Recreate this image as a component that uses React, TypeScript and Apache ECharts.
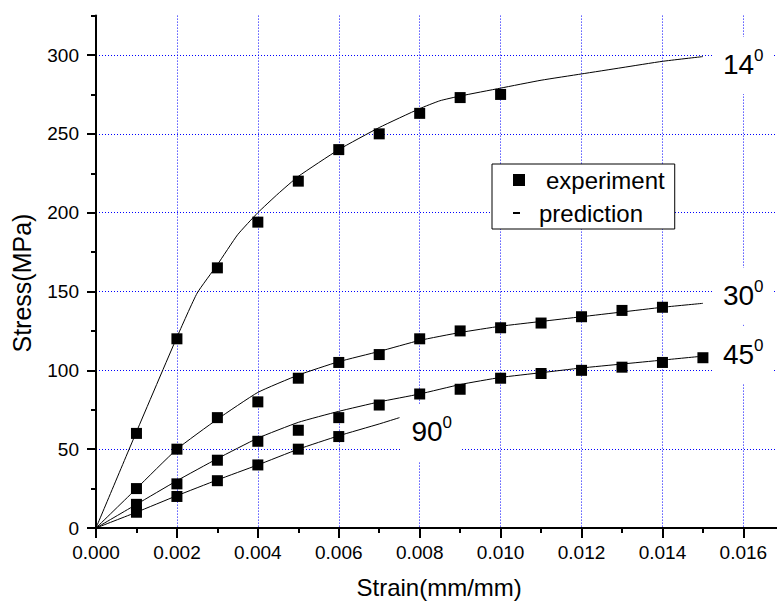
import React, { useEffect, useRef } from 'react';
import * as echarts from 'echarts';

// ---- data ----
const angles = ['14', '30', '45', '90'];

const expStrain14 = [0.001, 0.002, 0.003, 0.004, 0.005, 0.006, 0.007, 0.008, 0.009, 0.01];
const expStress14 = [60, 120, 165, 194, 220, 240, 250, 263, 273, 275];
const expStrain30 = [0.001, 0.002, 0.003, 0.004, 0.005, 0.006, 0.007, 0.008, 0.009, 0.01, 0.011, 0.012, 0.013, 0.014];
const expStress30 = [25, 50, 70, 80, 95, 105, 110, 120, 125, 127, 130, 134, 138, 140];
const expStrain45 = [0.001, 0.002, 0.003, 0.004, 0.005, 0.006, 0.007, 0.008, 0.009, 0.01, 0.011, 0.012, 0.013, 0.014, 0.015];
const expStress45 = [15, 28, 43, 55, 62, 70, 78, 85, 88, 95, 98, 100, 102, 105, 108];
const expStrain90 = [0.001, 0.002, 0.003, 0.004, 0.005, 0.006];
const expStress90 = [10, 20, 30, 40, 50, 58];

const predStrain14 = [0, 0.001, 0.002, 0.0025, 0.003, 0.0035, 0.004, 0.0045, 0.005, 0.006, 0.007, 0.008, 0.0085, 0.009, 0.01, 0.011, 0.012, 0.013, 0.014, 0.015];
const predStress14 = [0, 61, 121, 149, 167, 186, 200, 212, 223, 240, 254, 266, 271, 274, 279, 284, 288, 292, 296, 299];
const predStrain30 = [0, 0.001, 0.002, 0.003, 0.004, 0.005, 0.006, 0.007, 0.008, 0.009, 0.01, 0.011, 0.012, 0.013, 0.014, 0.015];
const predStress30 = [0, 25, 50, 69, 86, 97, 105.5, 112, 119, 124, 128, 131, 134, 137, 140, 142.5];
const predStrain45 = [0, 0.001, 0.002, 0.003, 0.004, 0.005, 0.006, 0.007, 0.008, 0.009, 0.01, 0.011, 0.012, 0.013, 0.014, 0.015];
const predStress45 = [0, 15, 30, 44, 57, 67, 74, 80, 85, 91, 95.5, 98.5, 101.5, 104, 106.5, 109];
const predStrain90 = [0, 0.001, 0.002, 0.003, 0.004, 0.005, 0.006, 0.007, 0.0075];
const predStress90 = [0, 10, 20.5, 30.5, 40, 50, 58.5, 66, 70];

const X_MIN = 0;
const X_MAX = 0.018;
const X_INTERVAL = 0.002;
const Y_MAX_DATA = 325;
const Y_MAX_TICKS = 350;
const Y_INTERVAL = 50;

// ---- styling ----
const FONT = '"Liberation Sans", Arial, sans-serif';
const GRID_BLUE = '#0000ff';
const PX_PER_MPA = 512.4 / 325;

const zip = (xs: number[], ys: number[]) => xs.map((x, i) => [x, ys[i]]);

const expSets = [
  zip(expStrain14, expStress14),
  zip(expStrain30, expStress30),
  zip(expStrain45, expStress45),
  zip(expStrain90, expStress90),
];
const predSets = [
  zip(predStrain14, predStress14),
  zip(predStrain30, predStress30),
  zip(predStrain45, predStress45),
  zip(predStrain90, predStress90),
];

const labelPlacement = [
  { distance: 10, offset: [0, 9] },
  { distance: 10, offset: [0, -7] },
  { distance: 10, offset: [0, -1] },
  { distance: 2, offset: [0, 15] },
];

function buildOption(): any {
  const lineSeries = predSets.map((d, i) => ({
    type: 'line',
    name: 'prediction',
    xAxisIndex: 0,
    yAxisIndex: 1,
    data: d,
    symbol: 'none',
    showSymbol: false,
    smooth: 0.15,
    color: '#000',
    lineStyle: { color: '#000', width: 1 },
    z: 3,
    endLabel: {
      show: true,
      formatter: () => `{n|${angles[i]}}{s|0}`,
      distance: labelPlacement[i].distance,
      offset: labelPlacement[i].offset,
      backgroundColor: '#fff',
      padding: [10, 10, 12, 10],
      rich: {
        n: { fontSize: 28, lineHeight: 35, color: '#000', fontFamily: FONT },
        s: { fontSize: 17, lineHeight: 17, verticalAlign: 'top', color: '#000', fontFamily: FONT },
      },
    },
  }));
  const scatterSeries = expSets.map((d) => ({
    type: 'scatter',
    name: 'experiment',
    xAxisIndex: 0,
    yAxisIndex: 1,
    data: d,
    symbol: 'rect',
    symbolSize: 11,
    color: '#000',
    itemStyle: { color: '#000', opacity: 1 },
    z: 4,
  }));

  const gridLine = { color: GRID_BLUE, width: 1, type: [1, 2] };

  return {
    animation: false,
    backgroundColor: '#fff',
    textStyle: { fontFamily: FONT, color: '#000' },
    grid: [
      { left: 96, top: 15.6, width: 728.3, height: 512.4, containLabel: false, outerBoundsMode: 'none' },
      { left: 96, top: 15.6 - 25 * PX_PER_MPA, width: 728.3, height: 512.4 + 25 * PX_PER_MPA, containLabel: false, outerBoundsMode: 'none' },
    ],
    xAxis: [
      {
        type: 'value',
        gridIndex: 0,
        min: X_MIN,
        max: X_MAX,
        interval: X_INTERVAL,
        name: 'Strain(mm/mm)',
        nameLocation: 'middle',
        nameGap: 47,
        nameTextStyle: { fontSize: 24, color: '#000', padding: [0, 42, 0, 0] },
        axisLine: { show: true, lineStyle: { color: '#000', width: 2 } },
        axisTick: { show: true, length: 10, lineStyle: { color: '#000', width: 2 } },
        minorTick: { show: true, splitNumber: 2, length: 5, lineStyle: { color: '#000', width: 2 } },
        axisLabel: { fontSize: 19, color: '#000', margin: 15, showMaxLabel: false, formatter: (v: number) => v.toFixed(3) },
        splitLine: { show: true, showMinLine: false, showMaxLine: false, lineStyle: gridLine },
        z: 1,
      },
      {
        type: 'value',
        gridIndex: 1,
        min: X_MIN,
        max: X_MAX,
        interval: X_INTERVAL,
        show: false,
      },
    ],
    yAxis: [
      {
        type: 'value',
        gridIndex: 1,
        min: 0,
        max: Y_MAX_TICKS,
        interval: Y_INTERVAL,
        name: 'Stress(MPa)',
        nameLocation: 'middle',
        nameGap: 62,
        nameTextStyle: { fontSize: 25, color: '#000', padding: [0, 62, 0, 0] },
        axisLine: { show: false },
        axisTick: { show: true, length: 9, lineStyle: { color: '#000', width: 2 } },
        minorTick: { show: true, splitNumber: 2, length: 5, lineStyle: { color: '#000', width: 2 } },
        axisLabel: { fontSize: 19, color: '#000', margin: 17, showMaxLabel: false },
        splitLine: { show: true, showMinLine: false, showMaxLine: false, lineStyle: gridLine },
        z: 0,
      },
      {
        type: 'value',
        gridIndex: 0,
        min: 0,
        max: Y_MAX_DATA,
        interval: 25,
        axisLine: { show: true, lineStyle: { color: '#000', width: 2 } },
        axisTick: { show: false },
        axisLabel: { show: false },
        splitLine: { show: false },
        z: 1,
      },
    ],
    legend: {
      orient: 'vertical',
      left: 492,
      top: 164,
      padding: [4, 10, 4, 21],
      itemGap: 9,
      itemWidth: 12,
      itemHeight: 12,
      backgroundColor: '#fff',
      borderColor: '#000',
      borderWidth: 1,
      selectedMode: false,
      textStyle: { fontSize: 24, color: '#000', fontFamily: FONT },
      data: [
        { name: 'experiment', icon: 'rect', itemStyle: { color: '#000', opacity: 1 }, textStyle: { fontSize: 24, padding: [0, 0, 0, 16] } },
        { name: 'prediction', icon: 'path://M0,0M12,12M0,5h7v2h-7Z', itemStyle: { color: '#000', opacity: 1 }, textStyle: { fontSize: 24, padding: [0, 0, 0, 9] } },
      ],
    },
    series: [...lineSeries, ...scatterSeries],
  };
}

export default function App() {
  const ref = useRef<HTMLDivElement>(null);
  useEffect(() => {
    if (!ref.current) return;
    const chart = echarts.init(ref.current, null, { renderer: 'svg' });
    chart.setOption(buildOption());
    return () => chart.dispose();
  }, []);
  return (
    <div
      ref={ref}
      style={{ position: 'fixed', left: 0, top: 0, width: 777, height: 601, background: '#fff', overflow: 'hidden' }}
    />
  );
}
